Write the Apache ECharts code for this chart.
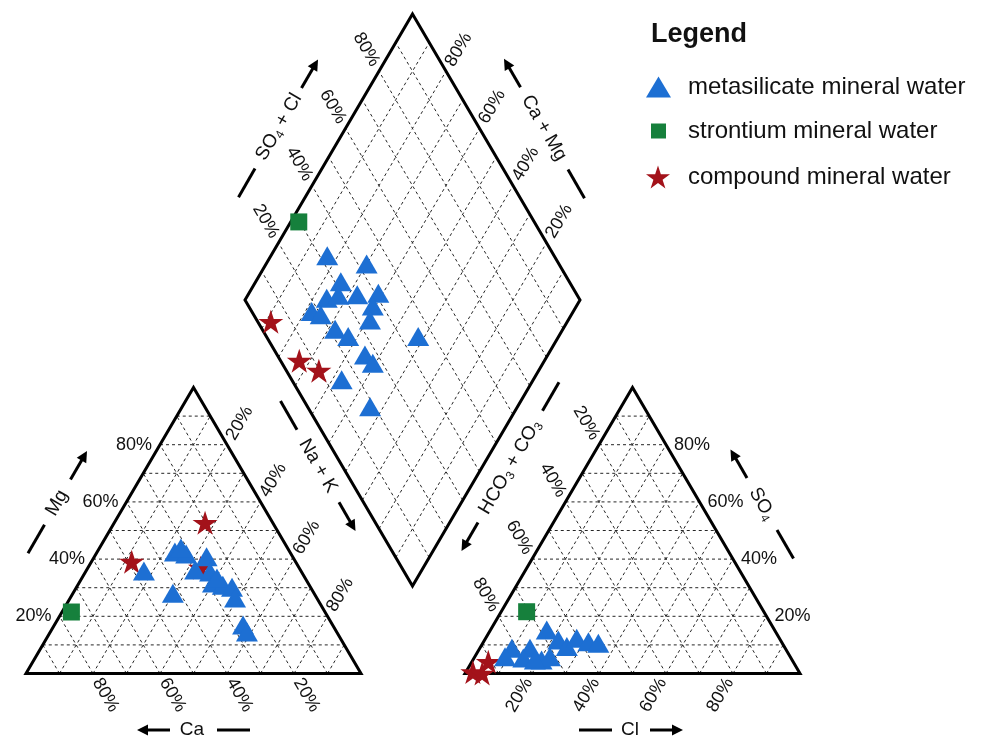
<!DOCTYPE html>
<html>
<head>
<meta charset="utf-8">
<script src="https://cdn.jsdelivr.net/npm/echarts@6/dist/echarts.min.js"></script>
<style>
  html, body { margin: 0; padding: 0; background: #ffffff; }
  #chart { width: 986px; height: 740px; }
</style>
</head>
<body>
<div id="chart"></div>
<script>
// Percent ticks labelled on every side
const ticks = [20, 40, 60, 80];

// Cation triangle: [Ca %, Mg %]; Na + K is the remainder
const cationMetasilicate = [
  [46.9, 35.8], [34.3, 42.5], [31.3, 41.8], [31.8, 43.9], [25.7, 40.8],
  [31.4, 36.2], [27.3, 35.5], [28.4, 31.6], [25.8, 30.9], [23.4, 30.2],
  [24.4, 26.4], [42.1, 28.1], [26.7, 17.0], [26.8, 14.5], [26.3, 33.4]
];
const cationStrontium = [[75.7, 21.5]];
const cationCompound = [[20.2, 52.7], [48.9, 39.1], [29.4, 37.0]];

// Anion triangle: [Cl %, SO4 %]; HCO3 + CO3 is the remainder
const anionMetasilicate = [
  [16.8, 15.2], [9.6, 8.8], [15.0, 8.8], [14.7, 5.4], [20.5, 4.7],
  [22.0, 11.7], [25.7, 9.4], [27.2, 12.3], [31.3, 11.1], [34.5, 10.6],
  [9.0, 5.9], [22.4, 5.9], [18.5, 4.7]
];
const anionStrontium = [[7.6, 21.6]];
const anionCompound = [[4.9, 4.1], [2.1, 0.5], [5.1, 0.0]];

// Central diamond: [Ca + Mg %, SO4 + Cl %]
const diamondMetasilicate = [
  [83.2, 32.3], [70.0, 42.6], [74.6, 31.8], [75.9, 24.7], [73.0, 28.7],
  [67.4, 34.4], [61.4, 41.0], [60.8, 37.1], [78.1, 17.9], [74.8, 20.0],
  [59.2, 33.8], [68.0, 21.8], [62.8, 24.4], [41.9, 45.3], [54.6, 26.2],
  [50.8, 27.1], [57.2, 14.9], [44.0, 18.7]
];
const diamondStrontium = [[97.6, 29.7]];
const diamondCompound = [[88.5, 3.9], [73.2, 5.6], [65.6, 9.7]];

const groupNames = ['metasilicate mineral water', 'strontium mineral water', 'compound mineral water'];

// ---- layout of the three panels (in axis units = page pixels) ----
const FONT = '"Liberation Sans", Arial, Helvetica, sans-serif';
const G = {
  cation: { left: [26, 673.5], right: [361, 673.5], top: [193.5, 387.5] },
  anion:  { left: [465, 673.5], right: [800, 673.5], top: [632.5, 387.5] },
  diamond: { top: [412.5, 14], left: [245, 300], right: [580, 300], bottom: [412.5, 586] }
};
const STAR = 'path://M50,0 L61.23,34.55 L97.55,34.55 L68.16,55.9 L79.39,90.45 L50,69.1 L20.61,90.45 L31.84,55.9 L2.45,34.55 L38.77,34.55 Z';
const COLORS = { blue: '#1d6fd3', green: '#16803c', red: '#a3121a' };

const lerp = (p, q, t) => [p[0] + (q[0] - p[0]) * t, p[1] + (q[1] - p[1]) * t];
const unit = (p, q) => { const dx = q[0] - p[0], dy = q[1] - p[1], l = Math.hypot(dx, dy); return [dx / l, dy / l]; };
const add = (p, d, s) => [p[0] + d[0] * s, p[1] + d[1] * s];

function mix3(A, wa, B, wb, C, wc) {
  return [(A[0] * wa + B[0] * wb + C[0] * wc) / 100, (A[1] * wa + B[1] * wb + C[1] * wc) / 100];
}
function cationXY(d) { const t = G.cation; return mix3(t.left, d[0], t.right, 100 - d[0] - d[1], t.top, d[1]); }
function anionXY(d) { const t = G.anion; return mix3(t.left, 100 - d[0] - d[1], t.right, d[0], t.top, d[1]); }
function diamondPt(a, b) {
  const D = G.diamond, B = D.bottom;
  return [B[0] + a * (D.left[0] - B[0]) + b * (D.right[0] - B[0]),
          B[1] + a * (D.left[1] - B[1]) + b * (D.right[1] - B[1])];
}
function diamondXY(d) { return diamondPt(d[0] / 100, d[1] / 100); }

const SLOPE = Math.atan2(286, 167.5) * 180 / Math.PI;

function buildFrame(api) {
  const els = [];
  const pt = p => api.coord(p);
  const seg = (p, q, style) => {
    const a = pt(p), b = pt(q);
    els.push({ type: 'line', shape: { x1: a[0], y1: a[1], x2: b[0], y2: b[1] }, style });
  };
  const dash = { stroke: '#262626', lineWidth: 1, lineDash: [3, 3] };
  const frame = { stroke: '#000', lineWidth: 3, fill: null, lineJoin: 'miter' };
  const poly = pts => els.push({ type: 'polygon', shape: { points: pts.map(pt) }, style: frame });
  const text = (p, rotDeg, align, str, size) => {
    const a = pt(p);
    els.push({ type: 'text', x: a[0], y: a[1], rotation: rotDeg * Math.PI / 180,
      style: { text: str, fill: '#111', fontSize: size || 18, fontFamily: FONT, align, verticalAlign: 'middle' } });
  };

  // triangle grids and frames
  [G.cation, G.anion].forEach(t => {
    for (let k = 1; k < 10; k++) {
      const v = k / 10;
      seg(lerp(t.left, t.top, v), lerp(t.right, t.top, v), dash);
      seg(lerp(t.right, t.left, v), lerp(t.top, t.left, v), dash);
      seg(lerp(t.left, t.right, v), lerp(t.top, t.right, v), dash);
    }
    poly([t.left, t.right, t.top]);
  });
  // diamond grid and frame
  for (let k = 1; k < 10; k++) {
    const v = k / 10;
    seg(diamondPt(v, 0), diamondPt(v, 1), dash);
    seg(diamondPt(0, v), diamondPt(1, v), dash);
  }
  const D = G.diamond;
  poly([D.top, D.right, D.bottom, D.left]);

  // tick labels
  const gap = 7;
  const c = G.cation, an = G.anion;
  ticks.forEach(v => {
    const f = v / 100, s = v + '%';
    // cation triangle
    text(add(lerp(c.left, c.top, f), [-1, 0], 8), 0, 'right', s);
    text(add(lerp(c.right, c.left, f), unit(c.top, c.right), gap), -SLOPE, 'left', s);
    text(add(lerp(c.top, c.right, f), unit(c.left, c.top), gap), SLOPE, 'left', s);
    // anion triangle
    text(add(lerp(an.right, an.top, f), [1, 0], 8), 0, 'left', s);
    text(add(lerp(an.left, an.right, f), unit(an.top, an.left), gap), SLOPE, 'right', s);
    text(add(lerp(an.top, an.left, f), unit(an.right, an.top), gap), -SLOPE, 'right', s);
    // diamond
    text(add(diamondPt(1, f), unit(D.bottom, D.left), gap), -SLOPE, 'right', s);
    text(add(diamondPt(f, 1), unit(D.bottom, D.right), gap), SLOPE, 'left', s);
  });

  // axis titles with their dash and arrow
  const strokeStyle = { stroke: '#000', lineWidth: 3, lineCap: 'butt' };
  const arrow = (p, q) => {
    const d = unit(p, q), n = [-d[1], d[0]];
    seg(p, add(q, d, -8), strokeStyle);
    const tip = q, b = add(q, d, -11);
    els.push({ type: 'polygon', shape: { points: [tip, add(b, n, 5.5), add(b, n, -5.5)].map(pt) },
      style: { fill: '#000' } });
  };
  const rich = {
    n: { fontSize: 19, fontFamily: FONT, fill: '#111', lineHeight: 22 },
    s: { fontSize: 12, fontFamily: FONT, fill: '#111', lineHeight: 12, verticalAlign: 'bottom' }
  };
  const titles = [
    { str: '{n|Mg}', at: [57, 503], rot: 60, pre: 'dash', post: 'arrow', g1: 25, g2: 27 },
    { str: '{n|Ca}', at: [192, 730], rot: 0, pre: 'back', post: 'dash', g1: 22, g2: 25 },
    { str: '{n|Na + K}', at: [318, 466], rot: -60, pre: 'dash', post: 'arrow', g1: 42, g2: 42 },
    { str: '{n|HCO}{s|3}{n| + CO}{s|3}', at: [510, 467], rot: 60, pre: 'back', post: 'dash', g1: 64, g2: 65 },
    { str: '{n|SO}{s|4}', at: [762, 504], rot: -60, pre: 'back', post: 'dash', g1: 30, g2: 30 },
    { str: '{n|Cl}', at: [630, 730], rot: 0, pre: 'dash', post: 'arrow', g1: 18, g2: 20 },
    { str: '{n|SO}{s|4}{n| + Cl}', at: [279, 127], rot: 60, pre: 'dash', post: 'arrow', g1: 48, g2: 45 },
    { str: '{n|Ca + Mg}', at: [544, 128], rot: -60, pre: 'back', post: 'dash', g1: 47, g2: 48 }
  ];
  const LEN = 33;
  titles.forEach(t => {
    const r = t.rot * Math.PI / 180, dir = [Math.cos(r), -Math.sin(r)];
    const a = pt(t.at);
    els.push({ type: 'text', x: a[0], y: a[1], rotation: r,
      style: { text: t.str, rich, align: 'center', verticalAlign: 'middle' } });
    const p1 = add(t.at, dir, -t.g1), p0 = add(t.at, dir, -t.g1 - LEN);
    if (t.pre === 'dash') seg(p0, p1, strokeStyle); else arrow(p1, p0);
    const q0 = add(t.at, dir, t.g2), q1 = add(t.at, dir, t.g2 + LEN);
    if (t.post === 'dash') seg(q0, q1, strokeStyle); else arrow(q0, q1);
  });
  return els;
}

const blueData = [...cationMetasilicate.map(cationXY), ...anionMetasilicate.map(anionXY), ...diamondMetasilicate.map(diamondXY)];
const greenData = [...cationStrontium.map(cationXY), ...anionStrontium.map(anionXY), ...diamondStrontium.map(diamondXY)];
const redData = [...cationCompound.map(cationXY), ...anionCompound.map(anionXY), ...diamondCompound.map(diamondXY)];

const legendText = { fontSize: 24, color: '#111', fontFamily: FONT, lineHeight: 26 };
const chart = echarts.init(document.getElementById('chart'), null, { renderer: 'canvas' });
chart.setOption({
  animation: false,
  backgroundColor: '#ffffff',
  title: { text: 'Legend', left: 651, top: 21, padding: 0,
    textStyle: { fontSize: 27, fontWeight: 'bold', color: '#111', fontFamily: FONT } },
  legend: [
    { data: [{ name: groupNames[0], icon: 'triangle' }], orient: 'vertical', left: 646, top: 74, padding: 0,
      itemWidth: 25, itemHeight: 21, selectedMode: false, textStyle: Object.assign({ padding: [0, 0, 0, 12] }, legendText) },
    { data: [{ name: groupNames[1], icon: 'rect' }], orient: 'vertical', left: 651, top: 118, padding: 0,
      itemWidth: 15, itemHeight: 15, selectedMode: false, textStyle: Object.assign({ padding: [0, 0, 0, 17] }, legendText) },
    { data: [{ name: groupNames[2], icon: STAR }], orient: 'vertical', left: 646, top: 164, padding: 0,
      itemWidth: 24, itemHeight: 23, selectedMode: false, textStyle: Object.assign({ padding: [0, 0, 0, 13] }, legendText) }
  ],
  grid: { left: 0, right: 0, top: 0, bottom: 0 },
  xAxis: { type: 'value', min: 0, max: 986, show: false },
  yAxis: { type: 'value', min: 0, max: 740, inverse: true, show: false },
  series: [
    { type: 'custom', name: 'frame', silent: true, z: 1, data: [[0, 0]],
      renderItem: (params, api) => ({ type: 'group', children: buildFrame(api) }) },
    { type: 'scatter', name: groupNames[1], z: 3, data: greenData, symbol: 'rect', symbolSize: 17,
      itemStyle: { color: COLORS.green, opacity: 1 } },
    { type: 'scatter', name: groupNames[2], z: 4, data: redData, symbol: STAR, symbolSize: [25, 24],
      itemStyle: { color: COLORS.red, opacity: 1 } },
    { type: 'scatter', name: groupNames[0], z: 5, data: blueData, symbol: 'triangle', symbolSize: [22, 19],
      itemStyle: { color: COLORS.blue, opacity: 1 } }
  ]
});
</script>
</body>
</html>
